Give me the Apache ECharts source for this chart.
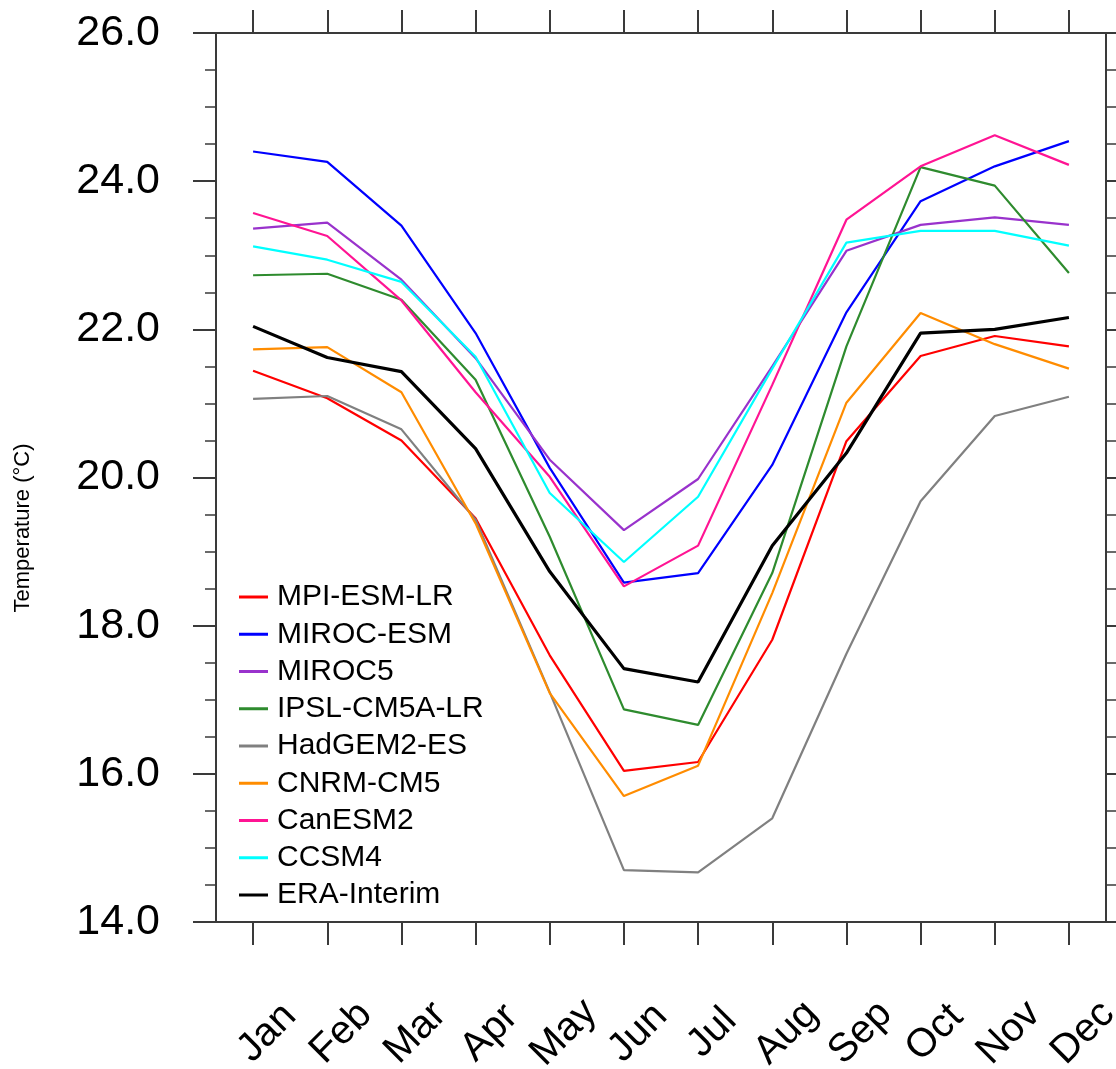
<!DOCTYPE html>
<html>
<head>
<meta charset="utf-8">
<title>Monthly temperature climatology</title>
<script src="https://cdn.jsdelivr.net/npm/echarts@6/dist/echarts.min.js"></script>
<style>
  html, body { margin: 0; padding: 0; background: #ffffff; }
  #chart { width: 1116px; height: 1069px; }
</style>
</head>
<body>
<div id="chart"></div>
<script>
// Month categories along the x axis
const months = ['Jan', 'Feb', 'Mar', 'Apr', 'May', 'Jun', 'Jul', 'Aug', 'Sep', 'Oct', 'Nov', 'Dec'];

// Y axis tick values (°C)
const yTicks = [14, 16, 18, 20, 22, 24, 26];

// Monthly mean temperature (°C) for each model and the reanalysis
const mpiEsmLr   = [21.44, 21.07, 20.50, 19.45, 17.60, 16.04, 16.16, 17.81, 20.49, 21.64, 21.91, 21.77];
const mirocEsm   = [24.40, 24.26, 23.40, 21.95, 20.13, 18.58, 18.71, 20.17, 22.23, 23.73, 24.20, 24.54];
const miroc5     = [23.36, 23.44, 22.67, 21.61, 20.24, 19.29, 19.98, 21.50, 23.06, 23.41, 23.51, 23.41];
const ipslCm5aLr = [22.73, 22.75, 22.40, 21.32, 19.20, 16.87, 16.66, 18.71, 21.77, 24.19, 23.94, 22.76];
const hadGem2Es  = [21.06, 21.10, 20.65, 19.43, 17.10, 14.70, 14.67, 15.40, 17.62, 19.68, 20.83, 21.09];
const cnrmCm5    = [21.73, 21.76, 21.15, 19.38, 17.09, 15.70, 16.11, 18.44, 21.01, 22.22, 21.80, 21.47];
const canEsm2    = [23.57, 23.26, 22.39, 21.15, 20.01, 18.53, 19.08, 21.25, 23.48, 24.20, 24.62, 24.22];
const ccsm4      = [23.12, 22.94, 22.64, 21.63, 19.79, 18.86, 19.74, 21.47, 23.17, 23.33, 23.33, 23.13];
const eraInterim = [22.04, 21.62, 21.43, 20.39, 18.73, 17.42, 17.24, 19.08, 20.33, 21.95, 22.00, 22.16];

const seriesDefs = [
  { name: 'MPI-ESM-LR',   data: mpiEsmLr,   color: '#ff0000', width: 2.2 },
  { name: 'MIROC-ESM',    data: mirocEsm,   color: '#0000ff', width: 2.2 },
  { name: 'MIROC5',       data: miroc5,     color: '#9932cc', width: 2.2 },
  { name: 'IPSL-CM5A-LR', data: ipslCm5aLr, color: '#2e8b2e', width: 2.2 },
  { name: 'HadGEM2-ES',   data: hadGem2Es,  color: '#808080', width: 2.2 },
  { name: 'CNRM-CM5',     data: cnrmCm5,    color: '#ff8c00', width: 2.2 },
  { name: 'CanESM2',      data: canEsm2,    color: '#ff1493', width: 2.2 },
  { name: 'CCSM4',        data: ccsm4,      color: '#00ffff', width: 2.2 },
  { name: 'ERA-Interim',  data: eraInterim, color: '#000000', width: 3.2 }
];

const FONT = "'Liberation Sans', Arial, Helvetica, sans-serif";
const frameColor = '#3a3a3a';

const chart = echarts.init(document.getElementById('chart'), null, { renderer: 'canvas' });

const categoryAxisBase = {
  type: 'category',
  data: months,
  boundaryGap: true,
  axisLine: { show: true, onZero: false, lineStyle: { color: frameColor, width: 2 } },
  axisTick: { show: true, inside: false, length: 23, alignWithLabel: true, interval: 0, lineStyle: { color: frameColor, width: 2 } },
  splitLine: { show: false }
};

const valueAxisBase = {
  type: 'value',
  min: yTicks[0],
  max: yTicks[yTicks.length - 1],
  interval: 2,
  axisLine: { show: true, onZero: false, lineStyle: { color: frameColor, width: 2 } },
  axisTick: { show: true, inside: false, length: 23, lineStyle: { color: frameColor, width: 2 } },
  minorTick: { show: true, splitNumber: 4, length: 11, lineStyle: { color: frameColor, width: 1.5 } },
  splitLine: { show: false }
};

const option = {
  backgroundColor: '#ffffff',
  animation: false,
  grid: { left: 216, right: 10, top: 33, bottom: 147, containLabel: false, outerBoundsMode: 'none' },
  xAxis: [
    Object.assign({}, categoryAxisBase, {
      position: 'bottom',
      axisLabel: {
        show: true,
        interval: 0,
        hideOverlap: false,
        rotate: 45,
        align: 'center',
        verticalAlign: 'middle',
        margin: 125,
        padding: [30, 0, 0, 40],
        fontFamily: FONT,
        fontSize: 40,
        color: '#000000'
      }
    }),
    Object.assign({}, categoryAxisBase, {
      position: 'top',
      axisLabel: { show: false }
    })
  ],
  yAxis: [
    Object.assign({}, valueAxisBase, {
      position: 'left',
      axisLabel: {
        show: true,
        margin: 56,
        fontFamily: FONT,
        fontSize: 43,
        color: '#000000',
        formatter: v => v.toFixed(1)
      }
    }),
    Object.assign({}, valueAxisBase, {
      position: 'right',
      axisLabel: { show: false }
    })
  ],
  legend: {
    orient: 'vertical',
    left: 234,
    top: 577,
    icon: 'rect',
    itemWidth: 29,
    itemHeight: 3,
    itemGap: 7.25,
    textStyle: {
      fontFamily: FONT,
      fontSize: 30,
      lineHeight: 30,
      color: '#000000',
      padding: [0, 0, 0, 4]
    },
    data: seriesDefs.map(s => s.name)
  },
  graphic: [
    {
      type: 'text',
      x: 23,
      y: 528,
      rotation: Math.PI / 2,
      style: {
        text: 'Temperature (°C)',
        fontFamily: FONT,
        fontSize: 22,
        fill: '#000000',
        align: 'center',
        verticalAlign: 'middle'
      }
    }
  ],
  series: seriesDefs.map(s => ({
    name: s.name,
    type: 'line',
    xAxisIndex: 0,
    yAxisIndex: 0,
    data: s.data,
    symbol: 'none',
    showSymbol: false,
    smooth: false,
    color: s.color,
    lineStyle: { color: s.color, width: s.width },
    itemStyle: { color: s.color },
    emphasis: { disabled: true }
  }))
};

chart.setOption(option);
</script>
</body>
</html>
